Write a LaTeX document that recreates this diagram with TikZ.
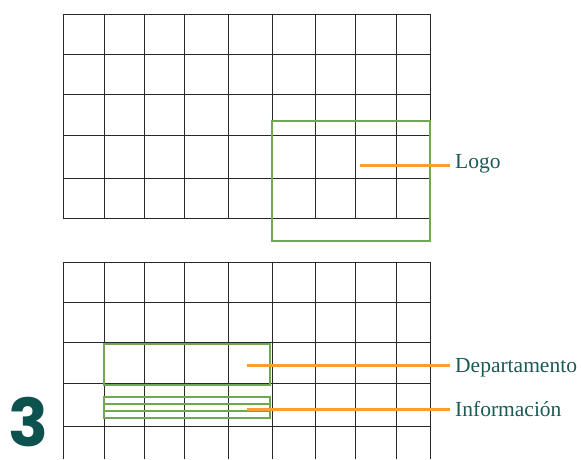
\documentclass[tikz,border=0pt]{standalone}
\usepackage{fontspec}
\newfontfamily\numfont{Poppins}
\newfontfamily\labfont{Liberation Serif}
\definecolor{gridc}{RGB}{40,40,40}
\definecolor{greenc}{RGB}{112,168,80}
\definecolor{orangec}{RGB}{247,160,48}
\definecolor{tealc}{RGB}{28,90,86}
\definecolor{darkteal}{RGB}{14,82,79}
\begin{document}
\begin{tikzpicture}[x=1pt,y=-1pt,
  gridline/.style={draw=gridc,line width=0.9pt},
  boxg/.style={draw=greenc,line width=1.8pt},
  boxthin/.style={draw=greenc,line width=1.4pt},
  leader/.style={draw=orangec,line width=2.2pt},
  lab/.style={anchor=base west,inner sep=0pt,text=tealc,font=\labfont\fontsize{21.5}{22}\selectfont}]
\useasboundingbox (0,0) rectangle (581,459);
% top grid
\foreach \x in {63,104,144,184,228,272,315,355,396,430}
  \draw[gridline] (\x,14) -- (\x,218);
\foreach \y in {14,54,94,135,178,218}
  \draw[gridline] (63,\y) -- (430,\y);
% bottom grid
\foreach \x in {63,104,144,184,228,272,315,355,396,430}
  \draw[gridline] (\x,262) -- (\x,459);
\foreach \y in {262,302,342,383,426}
  \draw[gridline] (63,\y) -- (430,\y);
% green boxes
\draw[boxg] (272,121) rectangle (430,241);
\draw[boxg] (104,344) rectangle (270,385);
\draw[boxthin] (104,397) rectangle (270,404);
\draw[boxthin] (104,404) rectangle (270,411);
\draw[boxthin] (104,411) rectangle (270,418);
% labels
\node[lab] (logo) at (455,168.5) {Logo};
\node[lab] (dep) at (455,372.5) {Departamento};
\node[lab] (inf) at (455,416.5) {Información};
\coordinate (lgs) at (360,165.5);
\coordinate (dps) at (247,365.5);
\coordinate (ifs) at (247,409.5);
\draw[leader] (lgs) -- ([xshift=-5pt]lgs -| logo.west);
\draw[leader] (dps) -- ([xshift=-5pt]dps -| dep.west);
\draw[leader] (ifs) -- ([xshift=-5pt]ifs -| inf.west);
% number
\node[anchor=south,inner sep=0pt,text height=47pt,text depth=0pt,text=darkteal,font=\numfont\bfseries\fontsize{66}{66}\selectfont] (num) at (28,447) {3};
\end{tikzpicture}
\end{document}
